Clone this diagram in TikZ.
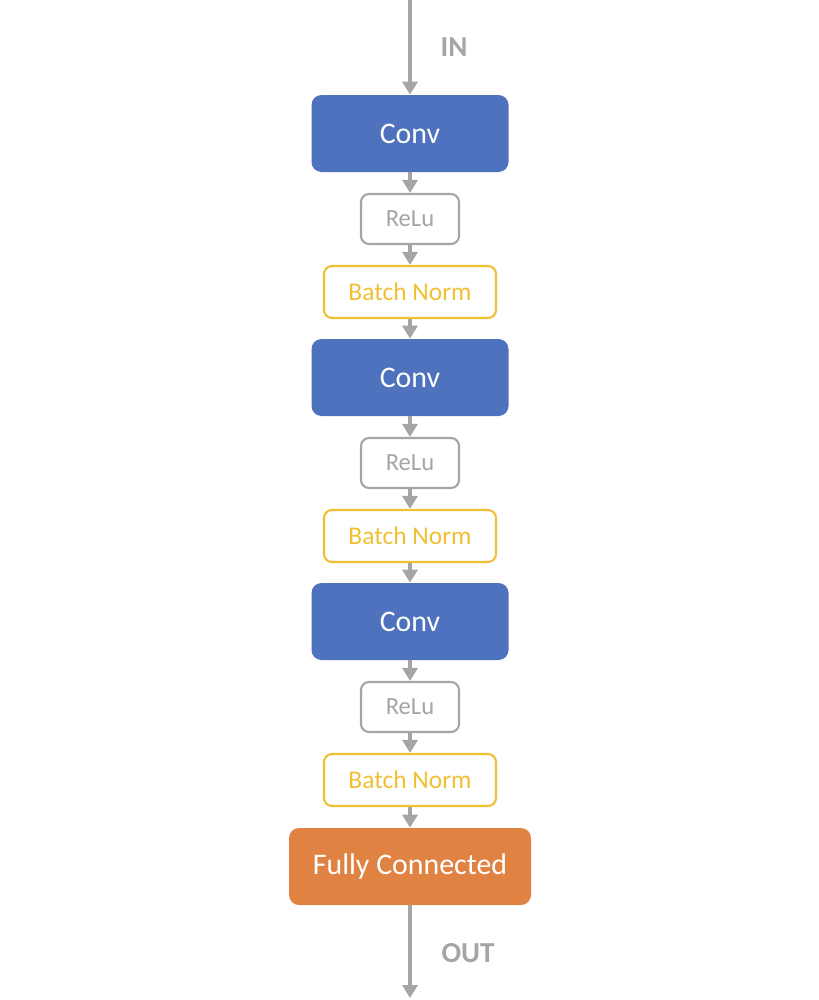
\documentclass[tikz,border=0pt]{standalone}
\usepackage{fontspec}
\setmainfont{Carlito}
\usetikzlibrary{arrows.meta}

\definecolor{convblue}{RGB}{79,114,190}
\definecolor{fcorange}{RGB}{224,131,66}
\definecolor{bngold}{RGB}{240,192,50}
\definecolor{flowgray}{RGB}{165,165,165}

\tikzset{
	conv/.style={fill=convblue, text=white, rounded corners=0.2cm, minimum width=3.94cm, minimum height=1.54cm, font=\fontsize{17}{18}\selectfont},
	relu/.style={draw=flowgray, line width=1.2pt, text=flowgray, fill=white, rounded corners=0.16cm, minimum width=1.96cm, minimum height=1.0cm, font=\fontsize{14}{15}\selectfont},
	norm/.style={draw=bngold, line width=1.2pt, text=bngold, fill=white, rounded corners=0.16cm, minimum width=3.44cm, minimum height=1.04cm, font=\fontsize{14.5}{16}\selectfont},
	dense/.style={fill=fcorange, text=white, rounded corners=0.2cm, minimum width=4.84cm, minimum height=1.54cm, font=\fontsize{17}{18}\selectfont},
	flow/.style={flowgray, line width=2.2pt, -{Triangle[length=0.26cm, width=0.3cm]}},
	tag/.style={text=flowgray, font=\fontsize{16.5}{18}\selectfont\bfseries}
}

\begin{document}
\begin{tikzpicture}
	\useasboundingbox (0,0) rectangle (16.36,-20);

	% layers
	\foreach \i in {1,2,3} {
		\pgfmathsetmacro{\y}{-2.67-(\i-1)*4.88}
		\node [conv] (conv\i) at (8.2,\y) {Conv};
		\node [relu] (relu\i) at (8.2,\y-1.71) {ReLu};
		\node [norm] (bn\i) at (8.2,\y-3.17) {Batch Norm};
	}
	\node [dense] (fc) at (8.2,-17.33) {Fully Connected};

	% in / out
	\coordinate (in) at (8.2,0);
	\coordinate (out) at (8.2,-19.96);
	\draw [flow] (in) -- (conv1);
	\draw [flow] (fc) -- (out);
	\node [tag] (inlabel) at (9.08,-0.94) {IN};
	\node [tag] (outlabel) at (9.36,-19.06) {OUT};

	% connectors
	\foreach \i in {1,2,3} {
		\draw [flow] (conv\i) -- (relu\i);
		\draw [flow] (relu\i) -- (bn\i);
	}
	\draw [flow] (bn1) -- (conv2);
	\draw [flow] (bn2) -- (conv3);
	\draw [flow] (bn3) -- (fc);
\end{tikzpicture}
\end{document}
